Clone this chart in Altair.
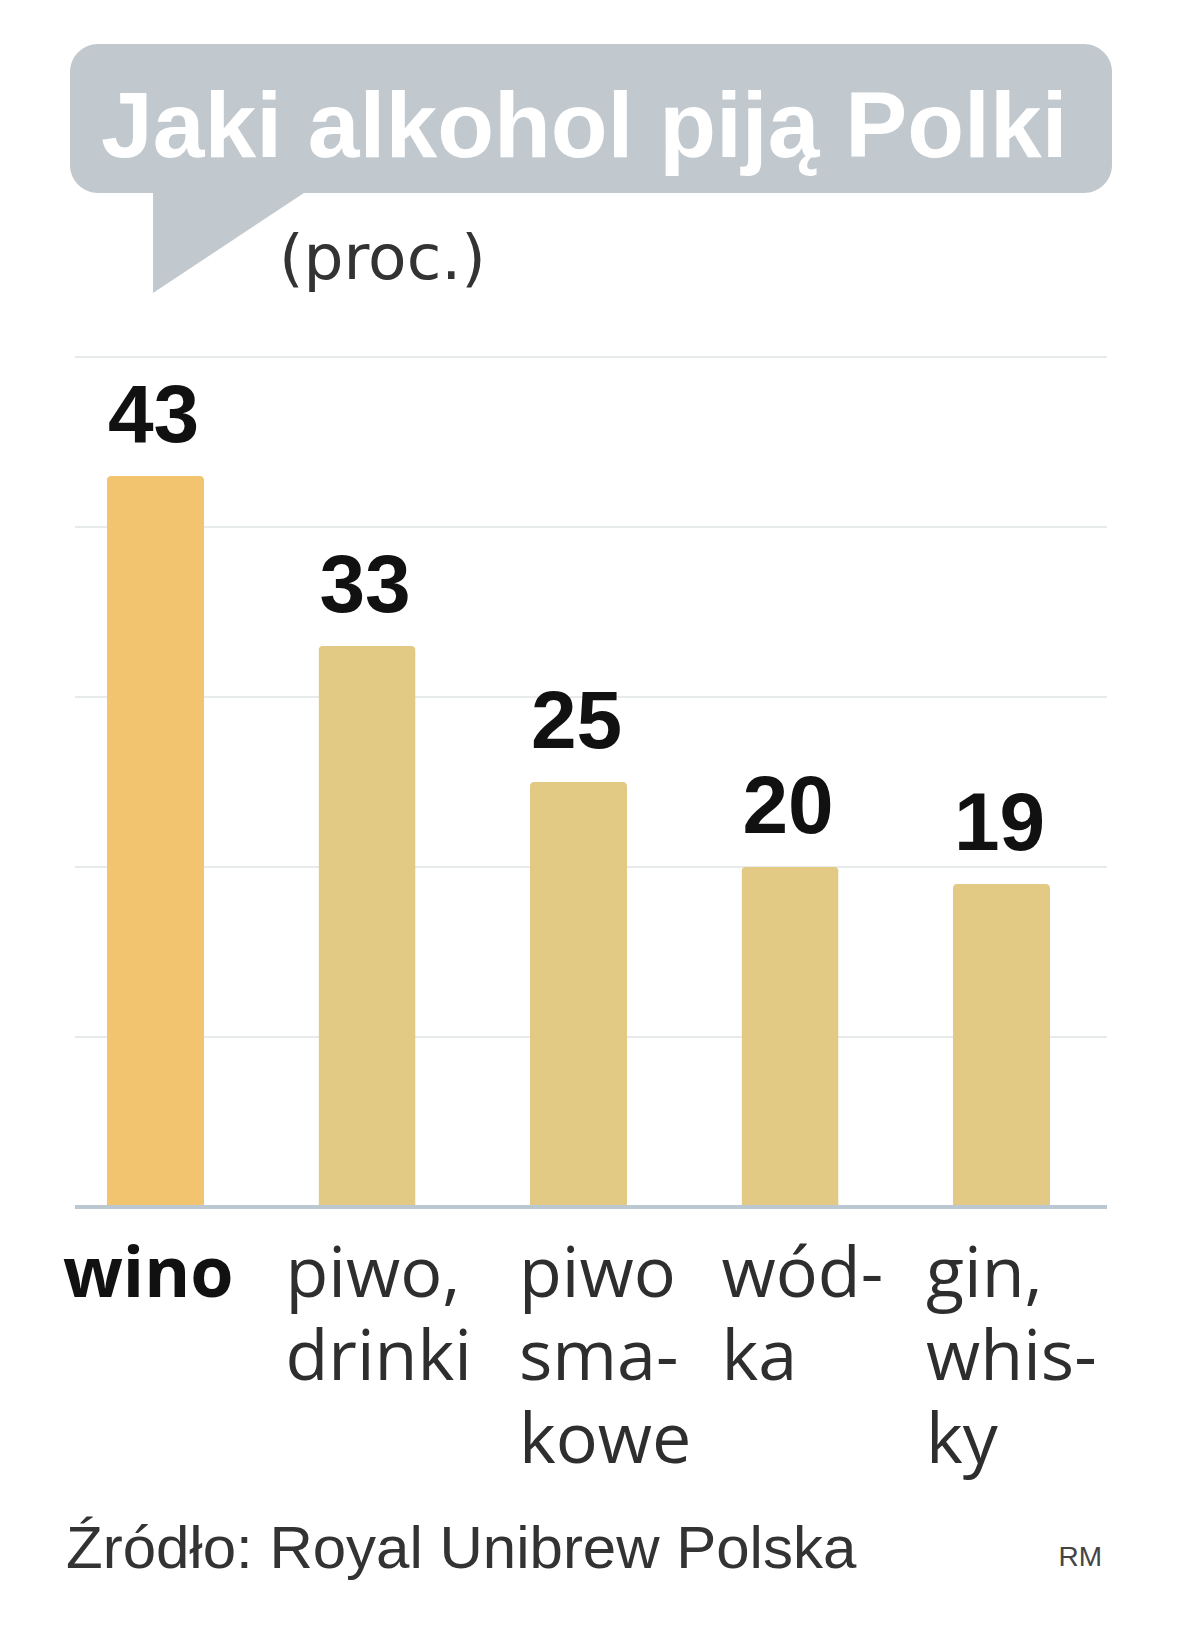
import altair as alt
import pandas as pd

# ---- data ----
categories = ["wino", "piwo, drinki", "piwo smakowe", "wódka", "gin, whisky"]
values = [43, 33, 25, 20, 19]
label_lines = ["wino", "piwo,\ndrinki", "piwo\nsma-\nkowe", "wód-\nka", "gin,\nwhis-\nky"]
value_labels = ["43", "33", "25", "20", "19"]
grid_values = [10, 20, 30, 40, 50]

title_text = "Jaki alkohol piją Polki"
unit_text = "(proc.)"
source_text = "Źródło: Royal Unibrew Polska"
credit_text = "RM"

df = pd.DataFrame({
    "kategoria": categories,
    "wartosc": values,
    "etykieta": label_lines,
    "napis": value_labels,
})
grid_df = pd.DataFrame({"poziom": grid_values})

# ---- styling ----
W, H = 1032, 850
bar_colors = ["#F2C470", "#E2CA85"]
bubble_color = "#C1C9CF"
grid_color = "#E8EBEC"
base_color = "#BCC8D1"
label_dx = [-44, -33, -11, -20, -27]

xscale = alt.Scale(domain=categories, range=[0, 1007], paddingInner=0.541, paddingOuter=0.151)
yscale = alt.Scale(domain=[0, 50], nice=False)

base = alt.Chart(df)

grid = alt.Chart(grid_df).mark_rule(color=grid_color, strokeWidth=2).encode(
    y=alt.Y("poziom:Q", scale=yscale, axis=None),
    x=alt.value(0), x2=alt.value(W),
)

bars = base.mark_bar(cornerRadiusTopLeft=4, cornerRadiusTopRight=4).encode(
    x=alt.X("kategoria:N", scale=xscale, sort=categories, axis=None),
    y=alt.Y("wartosc:Q", scale=yscale, axis=None),
    color=alt.Color("kategoria:N", scale=alt.Scale(domain=categories,
                    range=[bar_colors[0]] + [bar_colors[1]] * 4), legend=None),
)

baseline = alt.Chart(alt.Data(values=[{}])).mark_rule(color=base_color, strokeWidth=4).encode(
    y=alt.datum(0, scale=yscale), x=alt.value(0), x2=alt.value(W)
)

value_text = base.mark_text(
    align="left", baseline="alphabetic", dx=1, dy=-34,
    font="Liberation Sans", fontWeight="bold", fontSize=82, color="#111111",
).encode(
    x=alt.X("kategoria:N", scale=xscale, sort=categories, bandPosition=0),
    y=alt.Y("wartosc:Q", scale=yscale),
    text="napis:N",
)

cat_layers = []
for i, c in enumerate(categories):
    cat_layers.append(
        base.transform_filter(alt.datum.kategoria == c).mark_text(
            align="left", baseline="alphabetic", dx=label_dx[i], lineBreak="\n",
            lineHeight=83, font="Open Sans", fontSize=70,
            fontWeight="bold" if i == 0 else "normal",
            color="#111111" if i == 0 else "#2e2e2e",
        ).encode(
            x=alt.X("kategoria:N", scale=xscale, sort=categories, bandPosition=0),
            y=alt.value(940),
            text="etykieta:N",
        )
    )

one = alt.Data(values=[{}])

bubble = alt.Chart(one).mark_rect(color=bubble_color, cornerRadius=28).encode(
    x=alt.value(-5), x2=alt.value(1037), y=alt.value(-313), y2=alt.value(-164)
)
tail = alt.Chart(one).mark_point(
    shape="M -1 -0.662 L -1 0.662 L 1 -0.662 Z", filled=True, fill=bubble_color,
    opacity=1, strokeWidth=0, size=24649,
).encode(x=alt.value(156.5), y=alt.value(-116))

title = alt.Chart(one).mark_text(
    text=title_text, align="left", baseline="alphabetic", font="Liberation Sans",
    fontWeight="bold", fontSize=93, color="white",
).encode(x=alt.value(26), y=alt.value(-200))

unit = alt.Chart(one).mark_text(
    text=unit_text, align="left", baseline="alphabetic", font="DejaVu Sans",
    fontSize=63, color="#333333",
).encode(x=alt.value(204), y=alt.value(-78))

source = alt.Chart(one).mark_text(
    text=source_text, align="left", baseline="alphabetic", font="Liberation Sans",
    fontSize=60, color="#333333",
).encode(x=alt.value(-9), y=alt.value(1211))

credit = alt.Chart(one).mark_text(
    text=credit_text, align="right", baseline="alphabetic", font="Liberation Sans",
    fontSize=28, color="#444444",
).encode(x=alt.value(1027), y=alt.value(1209))

chart = alt.layer(
    grid, bubble, tail, title, unit, bars, baseline, value_text, *cat_layers, source, credit
).properties(
    width=W, height=H,
    autosize=alt.AutoSizeParams(type="none"),
    padding={"left": 67, "top": 349, "right": 85, "bottom": 405},
    background="white",
).configure_view(stroke=None)

chart.save("out.html", embed_options={"renderer": "svg", "actions": False})
